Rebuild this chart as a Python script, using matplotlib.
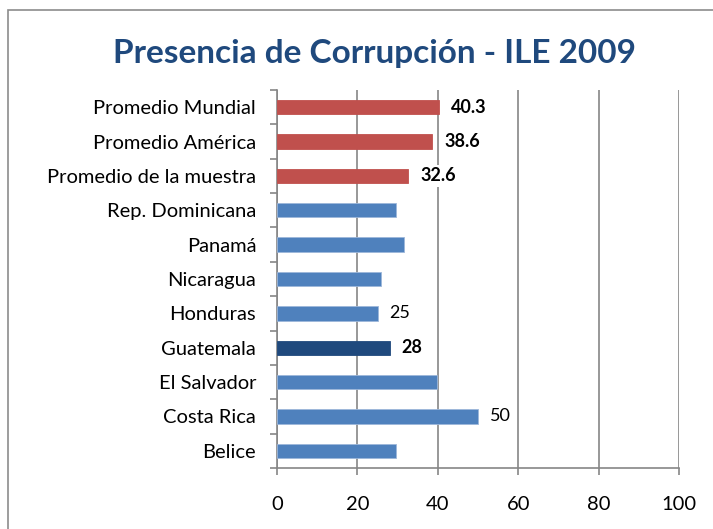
import matplotlib.pyplot as plt
from matplotlib.patches import Rectangle

# Data (top to bottom as in the chart)
categories = ['Promedio Mundial', 'Promedio América', 'Promedio de la muestra',
              'Rep. Dominicana', 'Panamá', 'Nicaragua', 'Honduras', 'Guatemala',
              'El Salvador', 'Costa Rica', 'Belice']
values = [40.3, 38.6, 32.6, 29.7, 31.7, 25.8, 25, 28, 39.8, 50, 29.7]
bar_colors = ['#C0504D', '#C0504D', '#C0504D', '#4F81BD', '#4F81BD', '#4F81BD',
              '#4F81BD', '#1F497D', '#4F81BD', '#4F81BD', '#4F81BD']
# which bars carry a value label, and whether it is bold
label_text = ['40.3', '38.6', '32.6', None, None, None, '25', '28', None, '50', None]
label_bold = [True, True, True, False, False, False, False, True, False, False, False]

xticks = [0, 20, 40, 60, 80, 100]

plt.rcParams['font.family'] = ['Lato', 'DejaVu Sans']

fig = plt.figure(figsize=(7.13, 5.29), dpi=100)
ax = fig.add_axes([277 / 713, 1 - 468 / 529, (679 - 277) / 713, (468 - 90) / 529])

n = len(categories)
ypos = list(range(n - 1, -1, -1))

edge = {'#C0504D': '#C0504D', '#4F81BD': '#9DB7DA', '#1F497D': '#1F497D'}
ax.barh(ypos, values, height=0.42, color=bar_colors, zorder=3,
        edgecolor=[edge[c] for c in bar_colors], linewidth=0.6)

for y, v, t, b in zip(ypos, values, label_text, label_bold):
    if t is None:
        continue
    ax.annotate(t, xy=(v, y), xytext=(12, 0), textcoords='offset pixels',
                va='center', ha='left', fontsize=13,
                fontweight='bold' if b else 'normal', color='black', zorder=5,
                bbox=dict(boxstyle='square,pad=0.15', fc='white', ec='none'))

ax.set_xlim(0, 100)
ax.set_ylim(-0.5, n - 0.5)

ax.set_xticks(xticks)
ax.set_xticklabels([str(x) for x in xticks], fontsize=14.5)
ax.xaxis.grid(True, color='#868686', linewidth=1.2, zorder=0)
ax.tick_params(axis='x', direction='out', length=5, width=1.2, color='#868686', pad=15)

# major ticks on category boundaries, labels on minor ticks at centers
ax.set_yticks([i - 0.5 for i in range(n + 1)])
ax.set_yticklabels([])
ax.set_yticks(ypos, minor=True)
ax.set_yticklabels(categories, minor=True, fontsize=14.5)
ax.tick_params(axis='y', which='major', direction='out', length=5, width=1.2, color='#868686')
ax.tick_params(axis='y', which='minor', length=0, pad=15)

for s in ['top', 'right']:
    ax.spines[s].set_visible(False)
for s in ['left', 'bottom']:
    ax.spines[s].set_color('#868686')
    ax.spines[s].set_linewidth(1.2)

fig.text(375 / 713, 1 - 53 / 529, 'Presencia de Corrupción - ILE 2009',
         ha='center', va='center', fontsize=24, fontweight='bold', color='#1F497D')

# outer chart border
fig.patches.append(Rectangle((8 / 713, -0.05), 1.2, 1.05 - 10 / 529, transform=fig.transFigure,
                             fill=False, edgecolor='#8C8C8C', linewidth=1.2))

fig.savefig('out.png', dpi=100, facecolor='white')
